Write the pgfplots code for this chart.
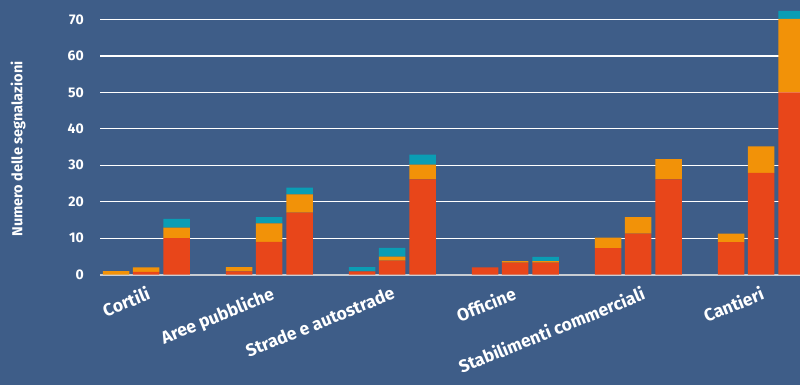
\documentclass[border=0pt]{standalone}
\usepackage{fontspec}
\setmainfont{Fira Sans}
\usepackage{pgfplots}
\pgfplotsset{compat=1.18}
\definecolor{bg}{HTML}{3E5D88}
\definecolor{cred}{HTML}{E8461A}
\definecolor{corange}{HTML}{F29208}
\definecolor{cteal}{HTML}{0A9DB4}
\definecolor{basec}{HTML}{C9CDD3}
\begin{document}
\begin{tikzpicture}[x=1pt,y=1pt]
\fill[bg] (0,0) rectangle (800,385);
\begin{axis}[
  at={(100pt,110.3pt)}, anchor=south west,
  scale only axis, width=700pt, height=273.6pt,
  xmin=100, xmax=800, ymin=0, ymax=75,
  ybar stacked, bar width=26.5, bar shift=0pt,
  axis line style={draw=none},
  major tick length=0pt,
  /pgf/number format/assume math mode=true,
  ytick={10,20,...,70},
  extra y ticks={0},
  extra y tick style={grid style={basec, line width=2pt}},
  ymajorgrids, grid style={white, line width=1.4pt},
  yticklabel style={font=\fontsize{14}{14}\selectfont\bfseries, text=white, inner sep=0pt, xshift=-16pt},
  xtick={146,270,391,512,641,760},
  xticklabels={Cortili, Aree pubbliche, Strade e autostrade, Officine, Stabilimenti commerciali, Cantieri},
  xticklabel style={font=\fontsize{17.5}{17.5}\selectfont\bfseries, text=white, rotate=22, anchor=north east, inner sep=0pt},
  xticklabel shift=11pt,
]
\addplot[fill=cred, draw=none] coordinates {
(116,0) (146,0.8) (176.5,10)
(239,0.9) (269,9) (299.5,17)
(362,0.9) (392,3.85) (422.5,26.1)
(485,2.0) (515,3.3) (545.5,3.3)
(608,7.3) (638,11.25) (668.5,26.1)
(731,8.95) (761,27.9) (791.5,50)
};
\addplot[fill=corange, draw=none] coordinates {
(116,0.95) (146,1.2) (176.5,2.9)
(239,1.2) (269,5.1) (299.5,5.0)
(362,0) (392,1.1) (422.5,4.1)
(485,0) (515,0.45) (545.5,0.45)
(608,2.85) (638,4.55) (668.5,5.6)
(731,2.3) (761,7.3) (791.5,20.1)
};
\addplot[fill=cteal, draw=none] coordinates {
(116,0) (146,0) (176.5,2.4)
(239,0) (269,1.7) (299.5,1.85)
(362,1.2) (392,2.4) (422.5,2.7)
(485,0) (515,0) (545.5,1.15)
(608,0) (638,0) (668.5,0)
(731,0) (761,0) (791.5,2.2)
};
\end{axis}
\node[rotate=90, text=white, font=\fontsize{14.5}{14.5}\selectfont\bfseries, inner sep=0pt] at (18,236) {Numero delle segnalazioni};
\pgfresetboundingbox
\useasboundingbox (0,0) rectangle (800,385);
\end{tikzpicture}
\end{document}
